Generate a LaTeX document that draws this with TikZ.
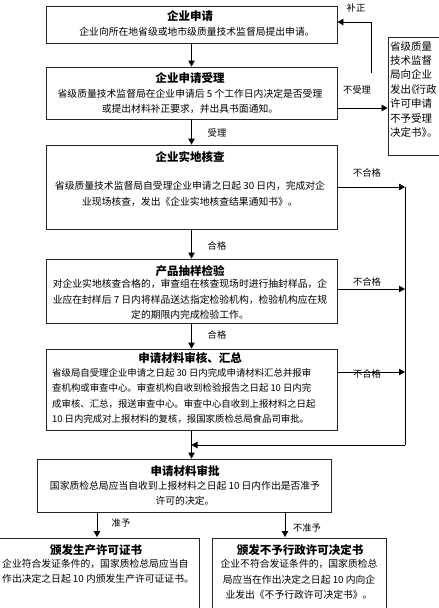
\documentclass[tikz,border=0pt]{standalone}
\usepackage{fontspec}
\setmainfont{Noto Sans CJK SC}
\usetikzlibrary{arrows.meta}
\begin{document}
\begin{tikzpicture}[x=1pt,y=-1pt,
  box/.style={draw=black!85,line width=0.9pt,inner sep=0pt,fill=white},
  ttl/.style={font=\fontsize{11.5}{14}\selectfont\bfseries,inner sep=0pt},
  bodytxt/.style={font=\fontsize{9.8}{15.5}\selectfont,inner sep=0pt,anchor=north,align=center},
  lbl/.style={font=\fontsize{9.3}{11}\selectfont,inner sep=0pt},
  arr/.style={line width=0.9pt,-{Triangle[length=6pt,width=6.5pt]}},
  ln/.style={line width=0.9pt}]
\useasboundingbox (0,0) rectangle (439,608);
\clip (0,0) rectangle (439,608);
\fill[white] (0,0) rectangle (439,608);

% boxes
\node[box,minimum width=291pt,minimum height=37pt] (b1) at (191.5,24.5) {};
\node[box,minimum width=291pt,minimum height=52pt] (b2) at (191.5,93) {};
\node[box,minimum width=291pt,minimum height=84pt] (b3) at (191.5,187) {};
\node[box,minimum width=291pt,minimum height=64pt] (b4) at (191.5,291) {};
\node[box,minimum width=291pt,minimum height=81pt] (b5) at (191.5,389.5) {};
\node[box,minimum width=294pt,minimum height=53pt] (b6) at (184,485.5) {};
\node[box,minimum width=204pt,minimum height=82pt] (b7) at (97,579) {};
\node[box,minimum width=174pt,minimum height=82pt] (b8) at (299,579) {};
\node[box,minimum width=57pt,minimum height=118pt] (R) at (416.5,96) {};

% titles
\node[ttl] (t1) at (190,16) {企业申请};
\node[ttl] (t2) at (190,78) {企业申请受理};
\node[ttl] (t3) at (190,157) {企业实地核查};
\node[ttl] (t4) at (190,271) {产品抽样检验};
\node[ttl] (t5) at (190,358) {申请材料审核、汇总};
\node[ttl] (t6) at (185,471) {申请材料审批};
\node[ttl] (t7) at (96,550) {颁发生产许可证书};
\node[ttl] (t8) at (300,550) {颁发不予行政许可决定书};

% body texts
\node[bodytxt] (x1) at (197,27) {企业向所在地省级或地市级质量技术监督局提出申请。};
\node[bodytxt,font=\fontsize{9.8}{15}\selectfont] (x2) at (190,89) {省级质量技术监督局在企业申请后 5 个工作日内决定是否受理\\或提出材料补正要求，并出具书面通知。};
\node[bodytxt,font=\fontsize{9.8}{16}\selectfont] (x3) at (190,181) {省级质量技术监督局自受理企业申请之日起 30 日内，完成对企\\业现场核查，发出《企业实地核查结果通知书》。};
\node[bodytxt] (x4) at (190,279) {对企业实地核查合格的，审查组在核查现场时进行抽封样品，企\\业应在封样后 7 日内将样品送达指定检验机构，检验机构应在规\\定的期限内完成检验工作。};
\node[bodytxt,align=left,anchor=north west,font=\fontsize{9.4}{15.6}\selectfont] (x5) at (52,368) {省级局自受理企业申请之日起 30 日内完成申请材料汇总并报审\\查机构或审查中心。审查机构自收到检验报告之日起 10 日内完\\成审核、汇总，报送审查中心。审查中心自收到上报材料之日起\\10 日内完成对上报材料的复核，报国家质检总局食品司审批。};
\node[bodytxt,font=\fontsize{9.8}{15}\selectfont] (x6) at (185,481) {国家质检总局应当自收到上报材料之日起 10 日内作出是否准予\\许可的决定。};
\node[bodytxt,align=left,anchor=north west,font=\fontsize{9.8}{14.5}\selectfont] (x7) at (2,559) {企业符合发证条件的，国家质检总局应当自\\作出决定之日起 10 内颁发生产许可证证书。};
\node[bodytxt] (x8) at (299,559) {企业不符合发证条件的，国家质检总\\局应当在作出决定之日起 10 内向企\\业发出《不予行政许可决定书》。};
\node[bodytxt,align=left,anchor=north west,font=\fontsize{10.5}{14.4}\selectfont] (xR) at (390,41) {省级质量\\技术监督\\局向企业\\发出\kern-5pt《\kern-1pt行政\\许可申请\\不予受理\\决定书》\kern-5pt。};

% connector labels
\node[lbl] (l0) at (356,8) {补正};
\node[lbl] (l1) at (357,90) {不受理};
\node[lbl] (l2) at (217,133) {受理};
\node[lbl] (l3) at (217,246) {合格};
\node[lbl] (l4) at (217,335) {合格};
\node[lbl] (l5) at (367,173) {不合格};
\node[lbl] (l6) at (367,282) {不合格};
\node[lbl] (l7) at (367,374) {不合格};
\node[lbl] (l8) at (121,523) {准予};
\node[lbl] (l9) at (307,528) {不准予};

% coordinates
\coordinate (bz) at (371,73);
\coordinate (bzt) at (371,22);
\coordinate (r1) at (405,187);
\coordinate (r2) at (405,289);
\coordinate (r3) at (405,372);
\coordinate (r4) at (405,445);
\coordinate (c7) at (97,537);
\coordinate (c8) at (285,537);

% main flow
\draw[arr] (b1.south) -- (b2.north);
\draw[arr] (b2.south) -- (b3.north);
\draw[arr] (b3.south) -- (b4.north);
\draw[arr] (b4.south) -- (b5.north);
\draw[arr] (b5.south) -- (b5.south |- b6.north);
\draw[arr] (b6.south -| c7) -- (c7);
\draw[arr] (b6.south -| c8) -- (c8);

% side flows
\draw[arr] (bz) -- (bzt) -- (b1.east |- bzt);
\draw[arr] (b2.east |- 0,108) -- (R.west |- 0,108);
\draw[arr] (b3.east |- r1) -- (r1);
\draw[arr] (b4.east |- r2) -- (r2);
\draw[arr] (b5.east |- r3) -- (r3);
\draw[ln] (r1) -- (r4);
\draw[arr] (r4) -- (b5.south |- r4);
\end{tikzpicture}
\end{document}
